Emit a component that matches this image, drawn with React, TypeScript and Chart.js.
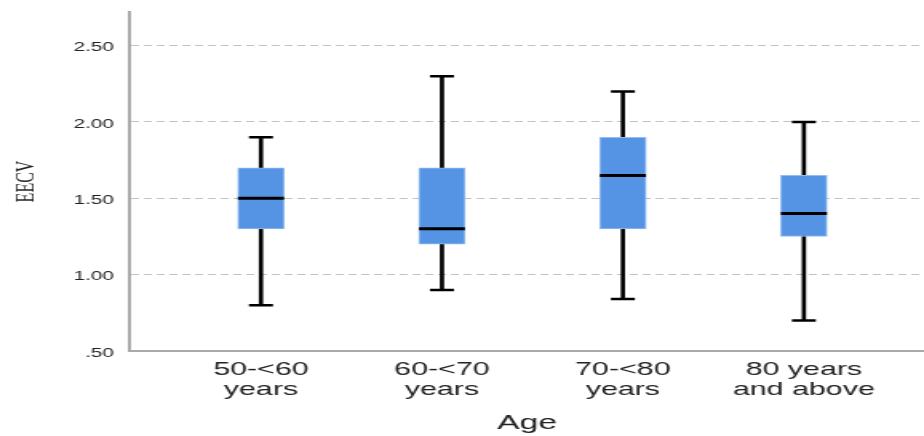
import React, { useEffect, useRef } from "react";
import { Chart, registerables } from "chart.js";

Chart.register(...registerables);

const categories: string[][] = [
  ["50-<60", "years"],
  ["60-<70", "years"],
  ["70-<80", "years"],
  ["80 years", "and above"],
];
const minValues = [0.8, 0.9, 0.84, 0.7];
const q1Values = [1.3, 1.2, 1.3, 1.25];
const medianValues = [1.5, 1.3, 1.65, 1.4];
const q3Values = [1.7, 1.7, 1.9, 1.65];
const maxValues = [1.9, 2.3, 2.2, 2.0];
const yTicks = [0.5, 1.0, 1.5, 2.0, 2.5];
const xTitle = "Age";
const yTitle = "EECV";

const fmt = (v: number) => {
  const s = v.toFixed(2);
  return v < 1 ? s.replace(/^0/, "") : s;
};

export default function App() {
  const ref = useRef<HTMLCanvasElement | null>(null);

  useEffect(() => {
    document.body.style.margin = "0";
    const canvas = ref.current;
    if (!canvas) return;
    const idx = categories.map((_, i) => i);
    const chart = new Chart(canvas, {
      type: "bar",
      data: {
        datasets: [
          {
            type: "line",
            label: "median",
            data: idx.map((i) => ({ x: i, y: medianValues[i] })),
            showLine: false,
            pointStyle: "line",
            pointRadius: 14.4,
            pointBorderWidth: 3,
            pointBorderColor: "#000",
            borderColor: "#000",
            order: 0,
          } as any,
          {
            type: "line",
            label: "caps",
            data: [
              ...idx.map((i) => ({ x: i, y: maxValues[i] })),
              ...idx.map((i) => ({ x: i, y: minValues[i] })),
            ],
            showLine: false,
            pointStyle: "line",
            pointRadius: 7.5,
            pointBorderWidth: 2.5,
            pointBorderColor: "#000",
            borderColor: "#000",
            order: 1,
          } as any,
          {
            type: "bar",
            label: "box",
            data: idx.map((i) => ({ x: i, y: [q1Values[i], q3Values[i]] })),
            backgroundColor: "#5594E4",
            borderColor: "#93BDEF",
            borderWidth: 1,
            borderSkipped: false,
            barThickness: 29,
            grouped: false,
            order: 2,
          } as any,
          {
            type: "bar",
            label: "whisker",
            data: idx.map((i) => ({ x: i, y: [minValues[i], maxValues[i]] })),
            backgroundColor: "#000",
            borderWidth: 0,
            barThickness: 2,
            grouped: false,
            order: 3,
          } as any,
        ],
      },
      options: {
        responsive: false,
        animation: false,
        devicePixelRatio: 1,
        events: [],
        layout: { autoPadding: false, padding: { top: 12, left: 0, right: 0, bottom: 0 } },
        plugins: { legend: { display: false }, tooltip: { enabled: false } },
        scales: {
          x: {
            type: "linear",
            min: -0.724,
            max: 3.664,
            offset: false,
            bounds: "data",
            afterBuildTicks: (scale: any) => {
              scale.ticks = idx.map((v) => ({ value: v }));
            },
            afterFit: (scale: any) => {
              scale.height = 85;
              scale.paddingLeft = 0;
              scale.paddingRight = 0;
              scale.paddingTop = 0;
              scale.paddingBottom = 0;
            },
            grid: { display: false, drawTicks: false, offset: false },
            border: { display: true, color: "#a9a9a9", width: 2 },
            ticks: {
              autoSkip: false,
              maxRotation: 0,
              minRotation: 0,
              padding: 9,
              color: "#222",
              font: { family: "'Liberation Sans', Arial, sans-serif", size: 19, lineHeight: 1.05 },
              callback: (v: any) => categories[Math.round(Number(v))] ?? "",
            },
            title: {
              display: true,
              text: xTitle,
              color: "#222",
              font: { family: "'Liberation Sans', Arial, sans-serif", size: 21, lineHeight: 1.2 },
              padding: { top: 0, bottom: 0 },
            },
          } as any,
          y: {
            type: "linear",
            min: 0.5,
            max: 2.72,
            beginAtZero: false,
            bounds: "data",
            afterBuildTicks: (scale: any) => {
              scale.ticks = yTicks.map((v) => ({ value: v }));
            },
            afterFit: (scale: any) => {
              scale.width = 81.3;
              scale.paddingLeft = 0;
              scale.paddingRight = 0;
              scale.paddingTop = 0;
              scale.paddingBottom = 0;
            },
            grid: {
              drawTicks: false,
              lineWidth: 1,
              color: (ctx: any) =>
                ctx.tick && ctx.tick.value === yTicks[0] ? "rgba(0,0,0,0)" : "#c2c2c2",
            },
            border: { display: true, color: "#a9a9a9", width: 2, dash: [5, 3] },
            ticks: {
              padding: 10,
              labelOffset: 2,
              color: "#222",
              font: { family: "'Liberation Sans', Arial, sans-serif", size: 13 },
              callback: (v: any) => fmt(Number(v)),
            },
            title: {
              display: true,
              text: yTitle,
              color: "#222",
              font: { family: "'Liberation Serif', 'Times New Roman', serif", size: 16, lineHeight: 1.2 },
              padding: { top: 7.5, bottom: 0 },
            },
          } as any,
        },
      },
    });
    return () => chart.destroy();
  }, []);

  return (
    <div style={{ position: "absolute", left: 0, top: 0, width: 924, height: 436 }}>
      <canvas
        ref={ref}
        width={578}
        height={436}
        style={{ width: "924px", height: "436px", display: "block" }}
      />
    </div>
  );
}
